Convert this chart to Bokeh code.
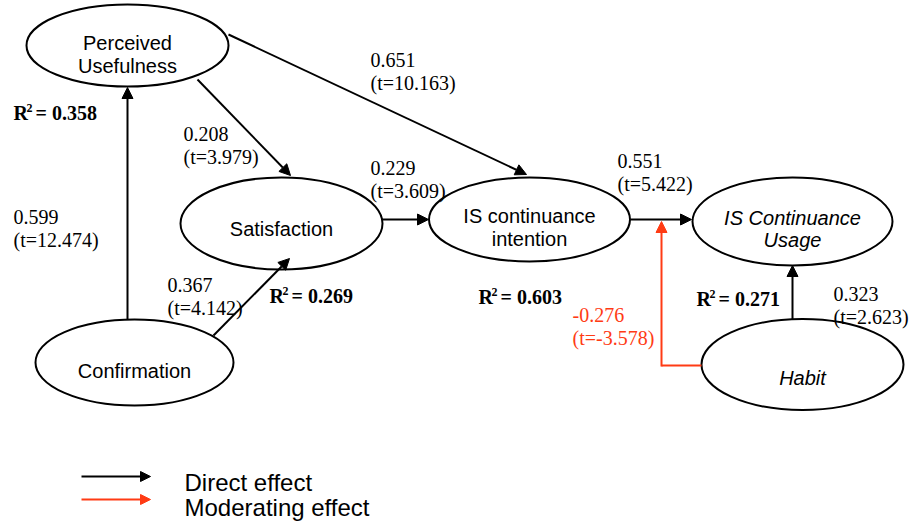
from bokeh.plotting import figure
from bokeh.models import Range1d, Arrow, NormalHead, ColumnDataSource
from bokeh.embed import file_html
from bokeh.resources import INLINE

# ---------------- data ----------------
constructs = ["Perceived\nUsefulness", "Satisfaction", "Confirmation",
              "IS continuance\nintention", "IS Continuance\nUsage", "Habit"]
italic_construct = [False, False, False, False, True, True]

path_coef = ["0.651", "0.208", "0.229", "0.551", "0.599", "0.367", "0.323"]
path_t = ["(t=10.163)", "(t=3.979)", "(t=3.609)", "(t=5.422)", "(t=12.474)", "(t=4.142)", "(t=2.623)"]

moderation_coef = ["-0.276"]
moderation_t = ["(t=-3.578)"]

r2_values = ["0.358", "0.269", "0.603", "0.271"]

legend_labels = ["Direct effect", "Moderating effect"]

# ---------------- layout (pixel coordinates of the diagram) ----------------
node_cx = [127, 281, 134, 529, 792, 802]
node_cy = [53, 231, 370, 227, 229, 372]
node_w = [202, 202, 198, 201, 200, 202]
node_h = [82, 92, 86, 84, 88, 91]
node_text_base = [[50, 73], [236], [378], [223, 246], [225, 247], [385]]

direct_arrows = [  # x0, y0, x1, y1
    (127, 327, 127, 95),
    (197, 87, 290, 183),
    (228, 42, 526, 182),
    (213, 343, 289, 266),
    (382, 227, 428, 227),
    (630, 227, 691, 227),
    (792, 327, 792, 273),
]
path_label_pos = [(370, 67), (183, 141), (370, 175), (617, 168), (13, 224), (167, 292), (833, 301)]
mod_label_pos = [(572, 322)]
r2_pos = [(13, 120), (269, 303), (478, 304), (696, 306)]
legend_arrow_y = [484, 507]
legend_text_base = [490, 515]

RED = "#ff3b14"
SERIF = "Liberation Serif"
SANS = "Liberation Sans"
LINE_GAP = 23

p = figure(width=909, height=524, x_range=Range1d(0, 909), y_range=Range1d(532, 8),
           output_backend="svg", toolbar_location=None, min_border=0)
p.axis.visible = False
p.grid.visible = False
p.outline_line_color = None
p.background_fill_color = "white"
p.border_fill_color = "white"

# ellipses
p.ellipse(x=node_cx, y=node_cy, width=node_w, height=node_h,
          fill_color="white", line_color="black", line_width=2)

# construct labels
tx, ty, tt, ts = [], [], [], []
for i, name in enumerate(constructs):
    for line, base in zip(name.split("\n"), node_text_base[i]):
        tx.append(node_cx[i]); ty.append(base); tt.append(line)
        ts.append("italic" if italic_construct[i] else "normal")
src_nodes = ColumnDataSource(dict(x=tx, y=ty, text=tt, style=ts))
p.text(x="x", y="y", text="text", text_font_style="style", source=src_nodes,
       text_align="center", text_baseline="alphabetic",
       text_font={"value": SANS}, text_font_size="20px", text_color="black")

# direct arrows
for (x0, y0, x1, y1) in direct_arrows:
    p.add_layout(Arrow(x_start=x0, y_start=y0, x_end=x1, y_end=y1,
                       line_color="black", line_width=2,
                       end=NormalHead(size=11, fill_color="black", line_color="black", line_width=1)))

# moderating path
p.line(x=[701, 661], y=[373, 373], line_color=RED, line_width=2)
p.add_layout(Arrow(x_start=661, y_start=374, x_end=661, y_end=229,
                   line_color=RED, line_width=2,
                   end=NormalHead(size=11, fill_color=RED, line_color=RED, line_width=1)))

# path coefficient labels
lx, ly, lt = [], [], []
for (x, y), c, t in zip(path_label_pos, path_coef, path_t):
    lx += [x, x]; ly += [y, y + LINE_GAP]; lt += [c, t]
p.text(x=lx, y=ly, text=lt, text_align="left", text_baseline="alphabetic",
       text_font={"value": SERIF}, text_font_size="20px", text_color="black")

mx, my, mt = [], [], []
for (x, y), c, t in zip(mod_label_pos, moderation_coef, moderation_t):
    mx += [x, x]; my += [y, y + LINE_GAP]; mt += [c, t]
p.text(x=mx, y=my, text=mt, text_align="left", text_baseline="alphabetic",
       text_font={"value": SERIF}, text_font_size="20px", text_color=RED)

# R-squared labels: "R" + superscript "2" + "= value"
rx = [q[0] for q in r2_pos]
ry = [q[1] for q in r2_pos]
p.text(x=rx, y=ry, text=["R"] * len(rx), text_align="left", text_baseline="alphabetic",
       text_font={"value": SERIF}, text_font_size="20px", text_font_style="bold",
       text_color="black")
p.text(x=[x + 13 for x in rx], y=[y - 5 for y in ry], text=["2"] * len(rx),
       text_align="left", text_baseline="alphabetic",
       text_font={"value": SERIF}, text_font_size="12px", text_font_style="bold",
       text_color="black")
p.text(x=[x + 22 for x in rx], y=ry, text=["= " + v for v in r2_values],
       text_align="left", text_baseline="alphabetic",
       text_font={"value": SERIF}, text_font_size="20px", text_font_style="bold",
       text_color="black")

# legend
for yy, col in zip(legend_arrow_y, ["black", RED]):
    p.add_layout(Arrow(x_start=81, y_start=yy, x_end=150, y_end=yy,
                       line_color=col, line_width=2,
                       end=NormalHead(size=10, fill_color=col, line_color=col, line_width=1)))
p.text(x=[184, 184], y=legend_text_base, text=legend_labels, text_align="left",
       text_baseline="alphabetic", text_font={"value": SANS}, text_font_size="24px",
       text_color="black")

open("out.html", "w").write(file_html(p, INLINE))
